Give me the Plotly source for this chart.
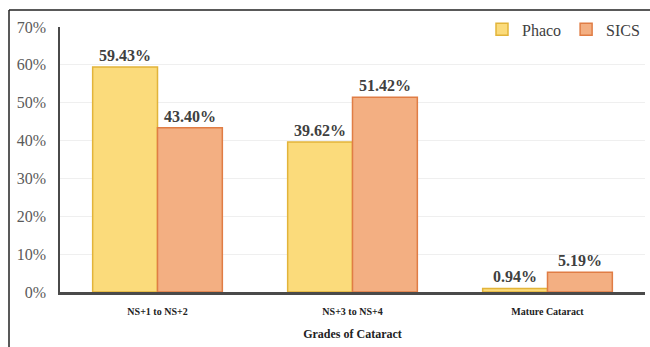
import plotly.graph_objects as go

categories = ["NS+1 to NS+2", "NS+3 to NS+4", "Mature Cataract"]
phaco = [59.43, 39.62, 0.94]
sics = [43.40, 51.42, 5.19]
y_ticks = [0, 10, 20, 30, 40, 50, 60, 70]
y_tick_labels = [f"{v}%" for v in y_ticks]

serif = "Liberation Serif"

fig = go.Figure()
fig.add_trace(go.Bar(
    name="Phaco", x=categories, y=phaco,
    marker=dict(color="#FBDB7B", line=dict(color="#E2B43A", width=1.5)),
    text=[f"{v:.2f}%" for v in phaco], textposition="outside",
    textfont=dict(family=serif, size=16, color="#404040", weight="bold"),
    cliponaxis=False,
))
fig.add_trace(go.Bar(
    name="SICS", x=categories, y=sics,
    marker=dict(color="#F3AF82", line=dict(color="#E07D45", width=1.5)),
    text=[f"{v:.2f}%" for v in sics], textposition="outside",
    textfont=dict(family=serif, size=16, color="#404040", weight="bold"),
    cliponaxis=False,
))

fig.update_layout(
    width=650, height=347,
    margin=dict(l=60, r=5, t=27, b=55),
    paper_bgcolor="white", plot_bgcolor="white",
    barmode="group", bargap=0.335, bargroupgap=0,
    font=dict(family=serif, color="#404040"),
    showlegend=True,
    legend=dict(
        orientation="h", x=1, xanchor="right", y=1.055, yanchor="top",
        font=dict(family=serif, size=16, color="#404040"),
        bgcolor="rgba(255,255,255,0)", itemwidth=30,
    ),
    xaxis=dict(
        showline=True, linecolor="#4a4a4a", linewidth=2.5,
        tickfont=dict(family=serif, size=10, color="#222222", weight="bold"),
        ticklabelstandoff=8,
        title=dict(text="Grades of Cataract", standoff=14,
                   font=dict(family=serif, size=12, color="#222222", weight="bold")),
    ),
    yaxis=dict(
        range=[0, 70], tickmode="array", tickvals=y_ticks, ticktext=y_tick_labels,
        showline=True, linecolor="#4a4a4a", linewidth=1.5,
        showgrid=True, gridcolor="#efefef", gridwidth=1,
        zeroline=False,
        tickfont=dict(family=serif, size=16, color="#5a5a5a"),
        ticklabelstandoff=9,
    ),
    shapes=[
        dict(type="line", xref="paper", yref="paper",
             x0=(9 - 60) / 585, x1=(650 - 60) / 585,
             y0=1 + (27 - 10) / 265, y1=1 + (27 - 10) / 265,
             line=dict(color="#222222", width=1.5)),
        dict(type="line", xref="paper", yref="paper",
             x0=(9 - 60) / 585, x1=(9 - 60) / 585,
             y0=1 + (27 - 10) / 265, y1=-55 / 265,
             line=dict(color="#222222", width=1.5)),
    ],
)

fig.write_html("out.html")
